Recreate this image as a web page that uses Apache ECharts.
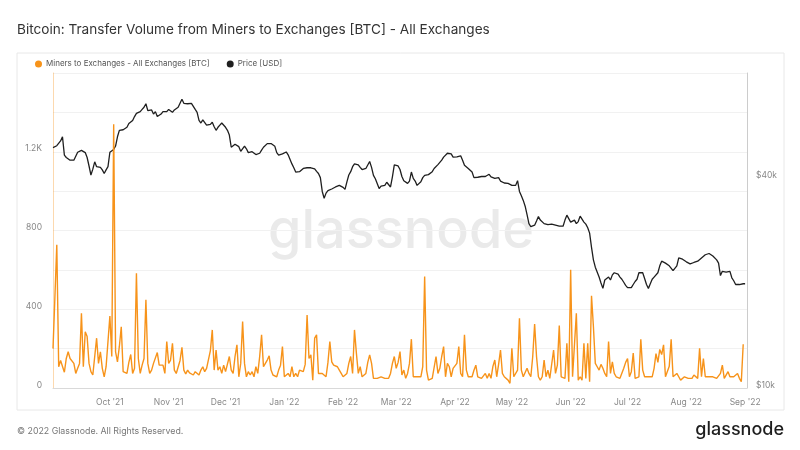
<!DOCTYPE html>
<html>
<head>
<meta charset="utf-8">
<script src="https://cdn.jsdelivr.net/npm/echarts@6/dist/echarts.min.js"></script>
<style>
  html, body { margin: 0; padding: 0; background: #ffffff; }
  #chart { width: 800px; height: 450px; }
</style>
</head>
<body>
<div id="chart"></div>
<script>
// ---- data ----
const startDate = '2021-09-01';
const dayCount = 367; // 2021-09-01 .. 2022-09-02

const minersToExchanges = [
  200,460,728,108,140,135,80,150,184,150,160,125,74,100,125,380,108,286,261,125,
  83,66,74,253,125,184,100,57,108,108,366,160,1340,184,133,211,311,83,74,74,
  130,170,74,100,583,150,74,116,150,448,125,74,91,125,133,180,116,108,116,74,
  236,125,142,227,91,74,83,140,207,91,71,91,77,83,66,83,74,66,91,108,
  83,100,91,190,295,91,193,91,108,74,116,83,74,160,91,74,160,219,57,125,
  337,125,57,83,66,83,57,108,74,160,270,108,125,142,163,91,66,74,57,91,
  116,210,57,66,74,57,108,57,74,57,91,100,83,120,371,150,168,40,253,270,
  74,66,74,66,57,130,236,133,116,116,108,91,74,57,49,74,125,160,74,295,
  177,74,108,57,49,74,130,168,125,49,57,49,57,57,57,49,57,49,74,125,
  160,100,130,185,66,91,49,74,125,248,57,49,57,49,57,108,566,91,40,32,
  49,57,160,74,100,160,210,57,125,108,57,100,108,125,211,74,57,270,91,57,
  49,57,90,116,57,49,49,40,74,49,74,49,110,142,57,120,193,74,57,66,
  40,24,202,57,49,91,354,91,57,49,100,74,57,160,325,160,57,40,57,142,
  57,91,49,49,193,74,116,317,57,49,49,227,32,600,57,49,380,40,57,40,
  227,49,227,32,468,312,125,108,91,120,100,74,57,236,74,133,74,57,57,49,
  49,100,130,150,57,83,177,49,57,57,248,91,57,49,57,57,57,100,175,130,
  196,170,219,57,57,110,248,57,49,74,57,40,49,57,49,49,57,49,66,57,
  49,202,57,150,57,49,57,49,57,57,49,57,74,116,49,57,83,57,49,57,
  57,74,49,32,222
];

const priceUSD = [
  48900,49200,49500,49800,51100,52500,46500,45800,45800,45000,45400,45000,46200,47400,47500,48000,47500,47300,45800,43300,
  40800,42400,44500,43100,42900,42900,42200,41200,42200,43100,47400,47900,48300,49400,52500,54800,54100,55000,54800,55900,
  57300,56700,58500,60000,61300,61300,62000,62900,63800,65300,62400,61800,62700,61000,62000,60000,59400,61000,62000,61300,
  62000,62900,62300,61700,62700,62900,63800,65500,67300,65500,65300,65300,64800,65500,64700,62900,61700,58500,57500,58700,
  58000,56700,57300,57000,57800,56100,54800,55900,56700,57500,57100,55900,54800,53100,49000,48700,50000,50400,49200,47700,
  47900,49400,48500,47300,47500,47600,47100,46700,47100,47100,48100,49000,49400,50200,50400,50200,50000,49300,47300,46500,
  46900,46900,47100,47500,46600,46000,43900,42800,41600,41500,41700,41800,42600,43100,42800,42700,42800,42600,42500,41800,
  41200,40100,36600,35000,36200,36800,36900,37200,37600,37700,37900,38100,38300,37600,37100,39000,40800,41700,43100,43900,
  44100,43600,42900,42300,41900,42600,43100,44600,42900,40700,39800,39300,37300,37900,37600,38100,38900,38700,37700,40300,
  43600,44000,43300,42300,40400,39300,38900,38600,39200,41600,39900,39200,38100,37700,39000,40100,40700,40400,40900,41300,
  41700,42600,43100,43700,44200,45000,45900,46500,47100,47300,46900,45900,45800,46000,46400,46300,45000,43500,43000,42600,
  42100,41600,40100,39800,40200,40000,40400,40200,40400,40800,41000,40300,39900,39900,39600,40100,39200,39300,38700,38900,
  38600,38100,38100,38200,38100,39300,36600,35600,34500,33200,31400,29600,29000,29300,29300,30100,31000,30300,30400,29600,
  29900,29400,29700,29500,29200,29300,29600,29100,28800,29100,30300,31300,31000,29900,29700,30300,29600,30000,31100,30900,
  29900,29500,28800,27800,25300,23300,22200,22000,20800,20000,19300,20400,20500,20800,20400,21100,21400,21500,21200,20800,
  20500,20100,19700,19400,19300,19400,19800,20200,20500,21400,21600,21400,20600,19800,19300,19900,20500,20800,20900,21400,
  22400,23100,23000,22800,22700,22400,22500,21700,21500,22400,23600,23700,23400,23200,23000,22900,22700,23000,22900,23200,
  23100,23400,23600,23800,24100,24300,24300,24200,23900,23600,23300,22800,21000,21600,21600,21500,21600,21600,20700,20300,
  19800,19900,19800,19900,19900,19900
];

const leftTicks = [0, 400, 800, 1200];
const rightTicks = [10000, 40000];
const monthNames = ['Jan','Feb','Mar','Apr','May','Jun','Jul','Aug','Sep','Oct','Nov','Dec'];

const seriesNameVol = 'Miners to Exchanges - All Exchanges [BTC]';
const seriesNamePrice = 'Price [USD]';

// ---- categories (daily dates) ----
const dates = [];
(function () {
  const d0 = new Date(startDate + 'T00:00:00Z');
  for (let i = 0; i < dayCount; i++) {
    const d = new Date(d0.getTime() + i * 86400000);
    dates.push(d.toISOString().slice(0, 10));
  }
})();

const FONT = 'Inter, "Noto Sans", sans-serif';

const chart = echarts.init(document.getElementById('chart'), null, { renderer: 'canvas' });

chart.setOption({
  animation: false,
  backgroundColor: '#ffffff',
  textStyle: { fontFamily: FONT },
  title: {
    text: 'Bitcoin: Transfer Volume from Miners to Exchanges [BTC] - All Exchanges',
    left: 12,
    top: 18,
    textStyle: { fontFamily: FONT, fontSize: 13.6, fontWeight: 'normal', color: '#333333' }
  },
  legend: {
    left: 30,
    top: 55,
    icon: 'circle',
    itemWidth: 7,
    itemHeight: 7,
    itemGap: 17,
    data: [seriesNameVol, seriesNamePrice],
    textStyle: { fontFamily: FONT, fontSize: 8, color: '#555555', padding: [0, 0, 0, -1] }
  },
  graphic: [
    {
      type: 'rect', z: -100, silent: true,
      shape: { x: 17, y: 53, width: 767, height: 357 },
      style: { fill: '#ffffff', stroke: '#e8e8e8', lineWidth: 1 }
    },
    {
      type: 'text', z: -50, silent: true,
      x: 401, y: 232,
      style: {
        text: 'glassnode', fontFamily: FONT, fontSize: 54, fontWeight: 500,
        fill: '#eaeaea', align: 'center', verticalAlign: 'middle'
      }
    },
    {
      type: 'text', silent: true,
      x: 17, y: 431,
      style: {
        text: '\u00a9 2022 Glassnode. All Rights Reserved.', fontFamily: FONT, fontSize: 8.8,
        fill: '#777777', align: 'left', verticalAlign: 'middle'
      }
    },
    {
      type: 'text', silent: true,
      x: 784, y: 430,
      style: {
        text: 'glassnode', fontFamily: FONT, fontSize: 18, fontWeight: 500,
        fill: '#1e1e1e', align: 'right', verticalAlign: 'middle'
      }
    }
  ],
  grid: { left: 53, right: 53, top: 73, bottom: 62, containLabel: false },
  xAxis: {
    type: 'category',
    data: dates,
    boundaryGap: false,
    axisLine: { show: true, lineStyle: { color: '#d9d9d9', width: 1 } },
    axisTick: { show: false },
    splitLine: { show: false },
    axisLabel: {
      interval: function (idx, val) { return idx > 0 && val.slice(8, 10) === '01'; },
      formatter: function (val) {
        const m = parseInt(val.slice(5, 7), 10) - 1;
        return monthNames[m] + " '" + val.slice(2, 4);
      },
      color: '#888888', fontSize: 8.5, fontFamily: FONT, margin: 10
    }
  },
  yAxis: [
    {
      type: 'value',
      min: 0,
      max: 1600,
      interval: 200,
      position: 'left',
      axisLine: { show: true, lineStyle: { color: 'rgba(247,147,26,0.35)', width: 1 } },
      axisTick: { show: false },
      splitLine: { show: true, lineStyle: { color: '#f1f1f1', width: 1 } },
      axisLabel: {
        showMaxLabel: false,
        formatter: function (v) {
          if (leftTicks.indexOf(v) < 0) return '';
          return v >= 1000 ? (v / 1000) + 'K' : String(v);
        },
        color: '#888888', fontSize: 8.5, fontFamily: FONT, margin: 11,
        verticalAlign: 'bottom', lineHeight: 6
      }
    },
    {
      type: 'log',
      logBase: 10,
      min: 10000,
      max: 80000,
      position: 'right',
      axisLine: { show: true, lineStyle: { color: '#cccccc', width: 1 } },
      axisTick: { show: false },
      splitLine: { show: false },
      axisLabel: {
        customValues: rightTicks,
        formatter: function (v) { return '$' + Math.round(v / 1000) + 'k'; },
        color: '#888888', fontSize: 8.5, fontFamily: FONT, margin: 9,
        verticalAlign: 'bottom', lineHeight: 6
      }
    }
  ],
  series: [
    {
      name: seriesNamePrice,
      type: 'line',
      yAxisIndex: 1,
      data: priceUSD,
      showSymbol: false,
      symbol: 'none',
      color: '#1f1f1f',
      lineStyle: { color: '#1f1f1f', width: 1.3 },
      z: 2
    },
    {
      name: seriesNameVol,
      type: 'line',
      yAxisIndex: 0,
      data: minersToExchanges,
      showSymbol: false,
      symbol: 'none',
      color: '#f7931a',
      lineStyle: { color: '#f7931a', width: 1.4 },
      z: 3
    }
  ]
});
</script>
</body>
</html>
